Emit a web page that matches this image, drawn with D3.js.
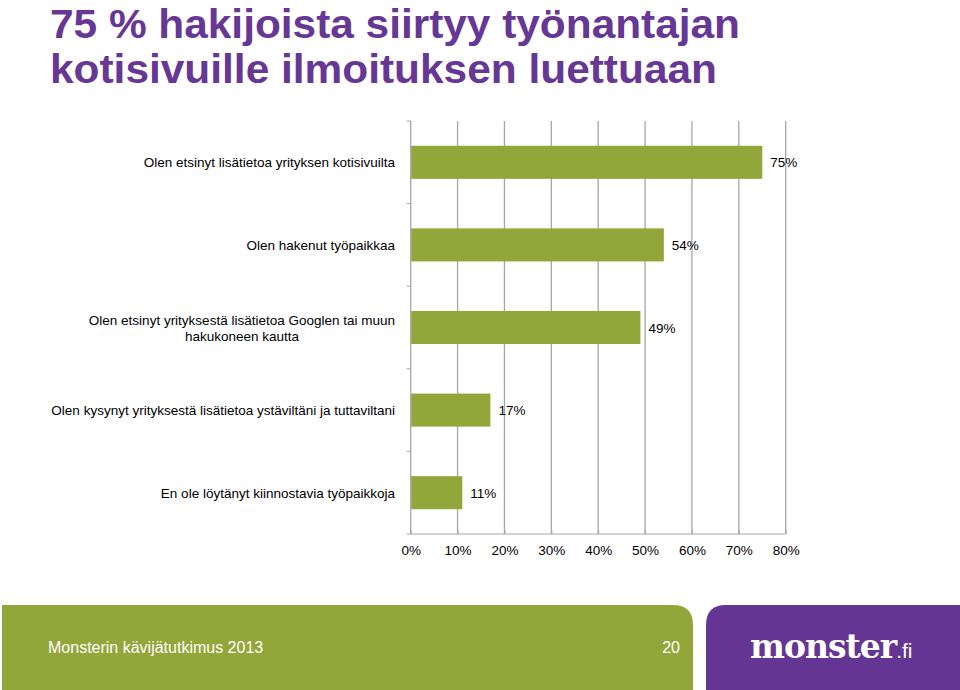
<!DOCTYPE html>
<html><head><meta charset="utf-8">
<script src="https://cdn.jsdelivr.net/npm/d3@7"></script>
<style>body{margin:0;background:#fff}svg{display:block}</style>
</head><body>
<svg id="c" width="960" height="690"></svg>
<script>
const titleLines = ["75 % hakijoista siirtyy työnantajan", "kotisivuille ilmoituksen luettuaan"];
const titleWidths = [690, 667];
const categories = [
  ["Olen etsinyt lisätietoa yrityksen kotisivuilta"],
  ["Olen hakenut työpaikkaa"],
  ["Olen etsinyt yrityksestä lisätietoa Googlen tai muun", "hakukoneen kautta"],
  ["Olen kysynyt yrityksestä lisätietoa ystäviltäni ja tuttaviltani"],
  ["En ole löytänyt kiinnostavia työpaikkoja"]
];
const values = [75, 54, 49, 17, 11];
const xTicks = [0, 10, 20, 30, 40, 50, 60, 70, 80];
const footerText = "Monsterin kävijätutkimus 2013";
const pageNumber = "20";

const svg = d3.select("#c");
const font = "'Liberation Sans', Arial, sans-serif";
const purple = "#663795", green = "#92a63a";

// Title
svg.append("g").selectAll("text").data(titleLines).join("text")
  .attr("x", 50).attr("y", (d, i) => 38 + i * 45)
  .attr("font-family", font).attr("font-weight", "bold").attr("font-size", 40)
  .attr("textLength", (d, i) => titleWidths[i]).attr("lengthAdjust", "spacingAndGlyphs")
  .attr("fill", purple).text(d => d);

const x = d3.scaleLinear().domain([0, 80]).range([410.7, 785.7]);
const y = d3.scaleBand().domain(d3.range(categories.length)).range([121, 534]).paddingInner(0.6).paddingOuter(0.3);
const band = d3.scaleBand().domain(d3.range(categories.length)).range([121, 534]);

// gridlines
svg.append("g").selectAll("line").data(xTicks).join("line")
  .attr("x1", d => x(d)).attr("x2", d => x(d)).attr("y1", 121).attr("y2", 534)
  .attr("stroke", "#a6a6a6").attr("stroke-width", 1.3);

// left band ticks
svg.append("g").selectAll("line").data(d3.range(categories.length + 1)).join("line")
  .attr("x1", x(0) - 4).attr("x2", x(0)).attr("y1", d => 121 + d * band.step()).attr("y2", d => 121 + d * band.step())
  .attr("stroke", "#a6a6a6").attr("stroke-width", 1);

// bottom axis
const xAxis = d3.axisBottom(x).tickValues(xTicks).tickFormat(d => d + "%").tickSize(4).tickPadding(7);
const ax = svg.append("g").attr("transform", "translate(0,534)").call(xAxis);
ax.select(".domain").attr("stroke", "#a6a6a6").attr("d", `M${x(0)},0H${x(80)}`);
ax.selectAll(".tick line").attr("stroke", "#a6a6a6").attr("y1", -4).attr("y2", 0);
ax.selectAll(".tick text").attr("font-family", font).attr("font-size", 13.5).attr("fill", "#000");

// bars
svg.append("g").selectAll("rect").data(values).join("rect")
  .attr("x", x(0) + 0.5).attr("y", (d, i) => y(i)).attr("width", d => x(d) - x(0) - 0.5)
  .attr("height", y.bandwidth()).attr("fill", green);

// value labels
svg.append("g").selectAll("text").data(values).join("text")
  .attr("x", d => x(d) + 8).attr("y", (d, i) => y(i) + y.bandwidth() / 2 + 5)
  .attr("font-family", font).attr("font-size", 13.5).attr("fill", "#000").text(d => d + "%");

// category labels (multi-line centered block, right-aligned)
const lab = svg.append("g");
categories.forEach((lines, i) => {
  const cy = band(i) + band.bandwidth() / 2;
  const t = lab.append("text").attr("font-family", font).attr("font-size", 13.5).attr("fill", "#000")
    .attr("text-anchor", "middle");
  lines.forEach((l, j) => t.append("tspan").text(l));
  const widths = [];
  t.selectAll("tspan").each(function() { widths.push(this.getComputedTextLength()); });
  const maxW = d3.max(widths);
  const cx = 395 - maxW / 2;
  const lh = 16;
  t.selectAll("tspan").attr("x", cx).attr("y", (d, j) => cy + 5 - (lines.length - 1) * lh / 2 + j * lh);
});

// footer
svg.append("path").attr("fill", green)
  .attr("d", "M2,605 H673 Q693,605 693,625 V690 H2 Z");
svg.append("path").attr("fill", "#653594")
  .attr("d", "M726,605 H960 V690 H706 V625 Q706,605 726,605 Z");
svg.append("text").attr("x", 48).attr("y", 653).attr("font-family", font).attr("font-size", 16)
  .attr("fill", "#fff").text(footerText);
svg.append("text").attr("x", 680).attr("y", 653).attr("text-anchor", "end").attr("font-family", font)
  .attr("font-size", 16).attr("fill", "#fff").text(pageNumber);
const logo = svg.append("text").attr("x", 750).attr("y", 658).attr("font-family", "'DejaVu Serif', serif")
  .attr("font-weight", "bold").attr("fill", "#fff");
logo.append("tspan").attr("font-size", 33).attr("letter-spacing", -1).text("monster");
logo.append("tspan").attr("font-size", 21).attr("font-family", font).attr("font-weight", "normal").text(".fi");
</script>
</body></html>
